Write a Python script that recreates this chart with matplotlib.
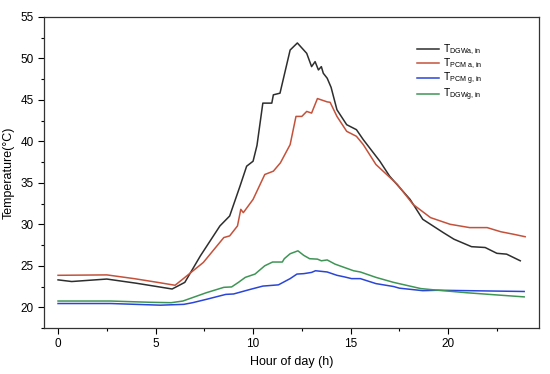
import matplotlib

matplotlib.use("Agg")
import matplotlib.pyplot as plt
from matplotlib.ticker import MultipleLocator

plt.rcParams["font.family"] = ["Liberation Sans", "DejaVu Sans"]
plt.rcParams["mathtext.default"] = "regular"

# T_DGWa,in
black_h = [0, 0.7, 2.5, 4.0, 5.85, 6.5, 7.3, 8.3, 8.8, 9.33, 9.67, 10.0, 10.2, 10.5, 10.96,
           11.04, 11.38, 11.9, 12.27, 12.75, 13.0, 13.18, 13.35, 13.5, 13.6, 13.8, 14.0, 14.3,
           14.8, 15.3, 15.65, 16.5, 17.0, 18.05, 18.7, 19.75, 20.3, 21.2, 21.9, 22.5, 23.0, 23.7]
black_v = [23.3, 23.1, 23.4, 22.9, 22.2, 23.0, 26.2, 29.8, 31.0, 34.6, 37.0, 37.6, 39.5, 44.6,
           44.6, 45.6, 45.8, 51.0, 51.85, 50.6, 49.0, 49.6, 48.6, 49.0, 48.2, 47.6, 46.5, 43.8,
           42.0, 41.4, 40.2, 37.6, 35.8, 33.0, 30.6, 29.0, 28.2, 27.3, 27.2, 26.5, 26.4, 25.6]

# T_PCM a,in
red_h = [0, 2.5, 3.9, 5.1, 6.0, 6.4, 7.45, 8.5, 8.8, 9.2, 9.37, 9.5, 10.0, 10.6, 11.04, 11.4,
         11.9, 12.2, 12.5, 12.75, 13.0, 13.3, 13.8, 13.95, 14.3, 14.8, 15.3, 15.65, 16.3, 17.4,
         18.2, 19.1, 20.1, 21.1, 22.0, 22.7, 23.35, 23.95]
red_v = [23.85, 23.9, 23.45, 23.0, 22.65, 23.4, 25.4, 28.4, 28.6, 29.8, 31.8, 31.4, 33.0, 36.0,
         36.4, 37.4, 39.6, 43.0, 43.0, 43.6, 43.4, 45.15, 44.75, 44.7, 43.0, 41.2, 40.6, 39.6,
         37.2, 34.8, 32.4, 30.8, 30.0, 29.6, 29.6, 29.1, 28.8, 28.5]

# T_PCM g,in
blue_h = [0, 2.7, 5.25, 6.45, 6.9, 7.6, 8.6, 9.0, 9.85, 10.5, 11.3, 11.9, 12.25, 12.6, 13.0,
          13.2, 13.8, 14.3, 14.7, 15.05, 15.5, 16.3, 17.2, 17.5, 18.7, 19.5, 23.9]
blue_v = [20.45, 20.45, 20.25, 20.35, 20.55, 20.95, 21.55, 21.6, 22.15, 22.55, 22.7, 23.45,
          24.0, 24.05, 24.2, 24.4, 24.25, 23.85, 23.65, 23.45, 23.45, 22.85, 22.5, 22.3, 22.0,
          22.05, 21.9]

# T_DGWg,in
green_h = [0, 2.7, 4.7, 5.8, 6.4, 7.6, 8.5, 8.9, 9.25, 9.6, 10.1, 10.6, 11.0, 11.5, 11.6, 11.9,
           12.3, 12.6, 12.9, 13.3, 13.5, 13.8, 14.2, 15.15, 15.5, 16.3, 17.2, 18.6, 19.25,
           20.95, 22.7, 23.9]
green_v = [20.75, 20.75, 20.6, 20.55, 20.75, 21.75, 22.4, 22.45, 23.0, 23.6, 24.0, 25.0, 25.45,
           25.45, 25.85, 26.45, 26.8, 26.25, 25.85, 25.8, 25.6, 25.7, 25.2, 24.4, 24.25, 23.6,
           23.0, 22.25, 22.1, 21.75, 21.45, 21.25]

fig = plt.figure(figsize=(5.5, 3.74), dpi=100)
ax = fig.add_axes([0.08, 0.123, 0.9, 0.832])

ax.plot(black_h, black_v, color="#2e2e2e", lw=1.1, label=r"$T_{DGWa,in}$")
ax.plot(red_h, red_v, color="#c4523b", lw=1.1, label=r"$T_{PCM\ a,in}$")
ax.plot(blue_h, blue_v, color="#2a46d8", lw=1.1, label=r"$T_{PCM\ g,in}$")
ax.plot(green_h, green_v, color="#3f9556", lw=1.1, label=r"$T_{DGWg,in}$")

ax.set_xlim(-0.72, 24.66)
ax.set_ylim(17.5, 55)
ax.xaxis.set_major_locator(MultipleLocator(5))
ax.xaxis.set_minor_locator(MultipleLocator(2.5))
ax.yaxis.set_major_locator(MultipleLocator(5))
ax.yaxis.set_minor_locator(MultipleLocator(2.5))
ax.tick_params(which="major", direction="out", length=4, width=0.8, labelsize=8.5)
ax.tick_params(which="minor", direction="out", length=2, width=0.8)
for s in ax.spines.values():
    s.set_linewidth(0.9)
    s.set_color("#333333")

ax.set_xlabel("Hour of day (h)", fontsize=9)
ax.set_ylabel("Temperature(°C)", fontsize=9)

ax.legend(loc="upper left", bbox_to_anchor=(0.745, 0.929), frameon=False, fontsize=7.4,
          handlelength=2.2, handletextpad=0.35, labelspacing=-0.04, borderaxespad=0)

fig.savefig("out.png", dpi=100)
